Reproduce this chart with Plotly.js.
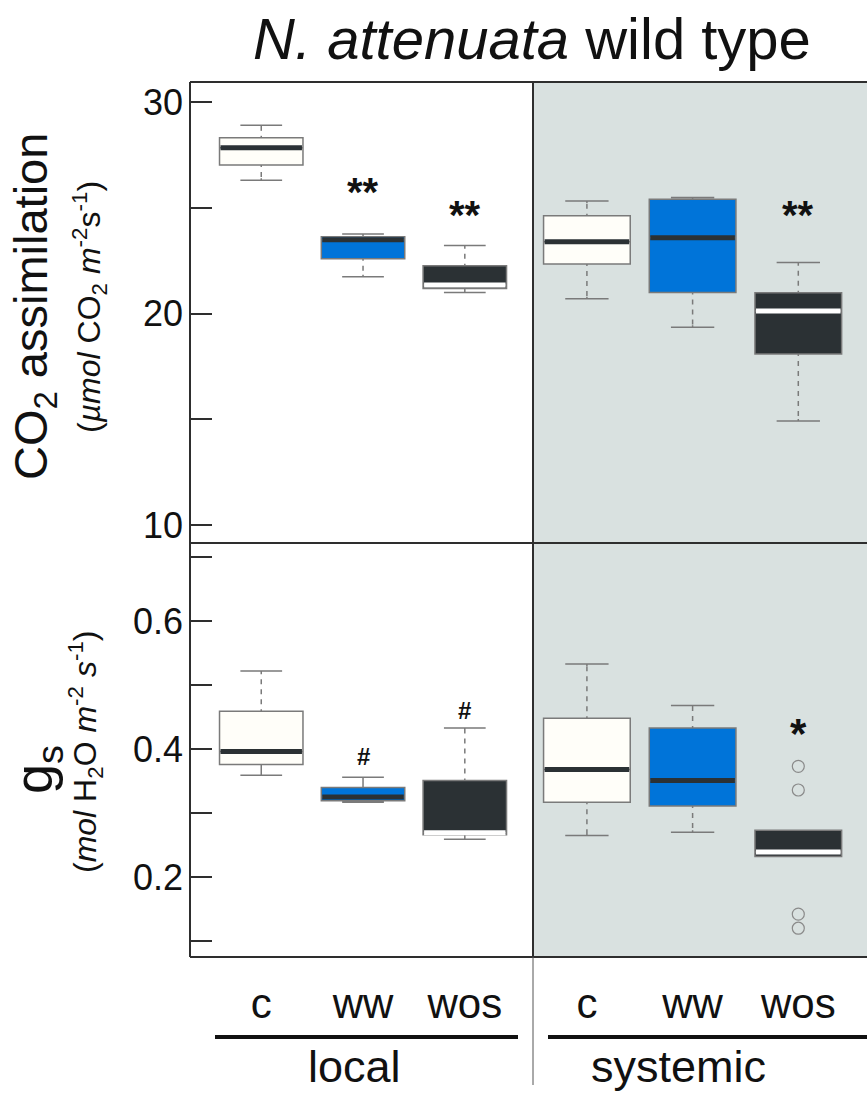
<!DOCTYPE html>
<html><head><meta charset="utf-8">
<script src="https://cdn.plot.ly/plotly-3.0.1.min.js"></script>
<style>html,body{margin:0;padding:0;background:#fff}#chart{width:867px;height:1096px}</style>
</head><body><div id="chart"></div>
<script>
// ---------- data ----------
const groups = ['c', 'ww', 'wos'];
const sites = ['local', 'systemic'];

// CO2 assimilation (µmol CO2 m-2 s-1)
const co2LocalQ1     = [27.02, 22.59, 21.19];
const co2LocalMedian = [27.84, 23.49, 21.35];
const co2LocalQ3     = [28.31, 23.63, 22.26];
const co2LocalLow    = [26.30, 21.74, 21.00];
const co2LocalHigh   = [28.91, 23.76, 23.22];

const co2SysQ1       = [22.34, 21.00, 18.09];
const co2SysMedian   = [23.39, 23.58, 20.12];
const co2SysQ3       = [24.62, 25.41, 20.98];
const co2SysLow      = [20.70, 19.35, 14.92];
const co2SysHigh     = [25.32, 25.49, 22.42];

// gs (mol H2O m-2 s-1)
const gsLocalQ1      = [0.376, 0.319, 0.266];
const gsLocalMedian  = [0.396, 0.325, 0.269];
const gsLocalQ3      = [0.459, 0.340, 0.351];
const gsLocalLow     = [0.359, 0.317, 0.259];
const gsLocalHigh    = [0.522, 0.356, 0.433];

const gsSysQ1        = [0.317, 0.311, 0.232];
const gsSysMedian    = [0.368, 0.351, 0.239];
const gsSysQ3        = [0.448, 0.433, 0.273];
const gsSysLow       = [0.265, 0.270, 0.232];
const gsSysHigh      = [0.533, 0.468, 0.273];

const gsSysWosOutliers = [0.373, 0.336, 0.142, 0.120];

// significance marks (text per group, and label height in data units)
const co2LocalSig  = ['', '**', '**'];
const co2LocalSigY = [null, 25.93, 24.85];
const co2SysSig    = ['', '', '**'];
const co2SysSigY   = [null, null, 24.85];
const gsLocalSig   = ['', '#', '#'];
const gsLocalSigY  = [null, 0.389, 0.461];
const gsSysSig     = ['', '', '*'];
const gsSysSigY    = [null, null, 0.431];

// ---------- styles ----------
const FONT = 'Liberation Sans, Arial, Helvetica, sans-serif';
const fillColors = ['#fffef9', '#0074d9', '#2b3134'];
const medianColors = ['#2b3134', '#2b3134', '#ffffff'];
const BORDER = '#7a7a7a';
const SYS_BG = '#d9e1e0';
const FRAME = '#2e2e2e';

const W = 867, H = 1096;
const M = {l: 190, r: 0, t: 82, b: 139};
const plotW = W - M.l - M.r, plotH = H - M.t - M.b;
const dv = (533 - M.l) / plotW;         // local | systemic split
const yd = (957 - 543) / plotH;         // bottom | top split

const co2Range = [9.15, 30.95];
const gsRange = [0.075, 0.722];
const xLocalRange = [-0.70, 2.67];
const xSysRange = [-0.51, 2.65];
const BOXW = 0.82;

const pxTop = (1 - yd) * plotH / (co2Range[1] - co2Range[0]);
const pxBot = yd * plotH / (gsRange[1] - gsRange[0]);

const traces = [];
const annotations = [];

function addPanel(xa, ya, q1, med, q3, lo, hi, bg, ppu, sig, sigY) {
  for (let i = 0; i < groups.length; i++) {
    traces.push({
      type: 'box', xaxis: xa, yaxis: ya, name: groups[i],
      x: [i], q1: [q1[i]], median: [med[i]], q3: [q3[i]],
      lowerfence: [lo[i]], upperfence: [hi[i]],
      width: BOXW, whiskerwidth: 0.5, fillcolor: fillColors[i],
      line: {color: BORDER, width: 1.5}, boxpoints: false,
      hoverinfo: 'skip', showlegend: false
    });
    // median bar
    traces.push({
      type: 'scatter', mode: 'lines', xaxis: xa, yaxis: ya,
      x: [i - BOXW / 2 + 0.01, i + BOXW / 2 - 0.01], y: [med[i], med[i]],
      line: {color: medianColors[i], width: 5}, hoverinfo: 'skip', showlegend: false
    });
    // dashed whiskers (background-coloured dash over the solid whisker)
    const pad = 2 / ppu;
    if ((hi[i] - q3[i]) * ppu > 12) {
      traces.push({
        type: 'scatter', mode: 'lines', xaxis: xa, yaxis: ya,
        x: [i, i], y: [q3[i] + pad, hi[i] - pad],
        line: {color: bg, width: 3, dash: '5px,5px'}, hoverinfo: 'skip', showlegend: false
      });
    }
    if ((q1[i] - lo[i]) * ppu > 12) {
      traces.push({
        type: 'scatter', mode: 'lines', xaxis: xa, yaxis: ya,
        x: [i, i], y: [q1[i] - pad, lo[i] + pad],
        line: {color: bg, width: 3, dash: '5px,5px'}, hoverinfo: 'skip', showlegend: false
      });
    }
    if (sig[i]) {
      const big = sig[i].indexOf('*') >= 0;
      const fs = sig[i] === '#' ? 24 : (sig[i] === '*' ? 42 : 40);
      annotations.push({
        xref: xa, yref: ya, x: i, y: sigY[i], text: '<b>' + sig[i] + '</b>',
        showarrow: false, xanchor: 'center', yanchor: 'middle',
        yshift: big ? -0.1 * fs : 0,
        font: {family: FONT, size: fs, color: '#111'}
      });
    }
  }
}

// top: CO2 (x3 local, x4 systemic, y)
addPanel('x3', 'y', co2LocalQ1, co2LocalMedian, co2LocalQ3, co2LocalLow, co2LocalHigh, '#ffffff', pxTop, co2LocalSig, co2LocalSigY);
addPanel('x4', 'y', co2SysQ1, co2SysMedian, co2SysQ3, co2SysLow, co2SysHigh, SYS_BG, pxTop, co2SysSig, co2SysSigY);
// bottom: gs (x local, x2 systemic, y2)
addPanel('x', 'y2', gsLocalQ1, gsLocalMedian, gsLocalQ3, gsLocalLow, gsLocalHigh, '#ffffff', pxBot, gsLocalSig, gsLocalSigY);
addPanel('x2', 'y2', gsSysQ1, gsSysMedian, gsSysQ3, gsSysLow, gsSysHigh, SYS_BG, pxBot, gsSysSig, gsSysSigY);

traces.push({
  type: 'scatter', mode: 'markers', xaxis: 'x2', yaxis: 'y2',
  x: gsSysWosOutliers.map(() => 2), y: gsSysWosOutliers,
  marker: {symbol: 'circle-open', size: 12, color: '#8a8a8a', line: {width: 1.2}},
  hoverinfo: 'skip', showlegend: false
});

// axis titles and group labels
annotations.push(
  {xref: 'paper', yref: 'paper', x: (34 - M.l) / plotW, y: (957 - 307) / plotH,
   text: 'CO<sub>2</sub> assimilation', textangle: -90, showarrow: false,
   xanchor: 'center', yanchor: 'middle', font: {family: FONT, size: 47, color: '#111'}},
  {xref: 'paper', yref: 'paper', x: (89 - M.l) / plotW, y: (957 - 307) / plotH,
   text: '(<i>µmol</i> CO<sub>2</sub> <i>m</i><sup>-2</sup>s<sup>-1</sup>)', textangle: -90, showarrow: false,
   xanchor: 'center', yanchor: 'middle', font: {family: FONT, size: 32, color: '#111'}},
  {xref: 'paper', yref: 'paper', x: (37 - M.l) / plotW, y: (957 - 770) / plotH,
   text: 'g<sub>s</sub>', textangle: -90, showarrow: false,
   xanchor: 'center', yanchor: 'middle', font: {family: FONT, size: 54, color: '#111'}},
  {xref: 'paper', yref: 'paper', x: (85 - M.l) / plotW, y: (957 - 752) / plotH,
   text: '(<i>mol</i> H<sub>2</sub>O <i>m</i><sup>-2</sup> <i>s</i><sup>-1</sup>)', textangle: -90, showarrow: false,
   xanchor: 'center', yanchor: 'middle', font: {family: FONT, size: 32, color: '#111'}},
  {xref: 'paper', yref: 'paper', x: (354 - M.l) / plotW, y: -(1066 - 957) / plotH,
   text: sites[0], showarrow: false, xanchor: 'center', yanchor: 'middle',
   font: {family: FONT, size: 45, color: '#111'}},
  {xref: 'paper', yref: 'paper', x: (678 - M.l) / plotW, y: -(1066 - 957) / plotH,
   text: sites[1], showarrow: false, xanchor: 'center', yanchor: 'middle',
   font: {family: FONT, size: 45, color: '#111'}}
);

const shapes = [
  {type: 'rect', xref: 'paper', yref: 'paper', x0: dv, x1: 1.01, y0: 0, y1: 1,
   fillcolor: SYS_BG, line: {width: 0}, layer: 'below'},
  // frame
  {type: 'line', xref: 'paper', yref: 'paper', x0: 0, x1: 1.01, y0: 1, y1: 1, line: {color: FRAME, width: 2}},
  {type: 'line', xref: 'paper', yref: 'paper', x0: 0, x1: 1.01, y0: yd, y1: yd, line: {color: FRAME, width: 2}},
  {type: 'line', xref: 'paper', yref: 'paper', x0: 0, x1: 1.01, y0: 0, y1: 0, line: {color: FRAME, width: 2}},
  {type: 'line', xref: 'paper', yref: 'paper', x0: 0, x1: 0, y0: 0, y1: 1, line: {color: FRAME, width: 2}},
  {type: 'line', xref: 'paper', yref: 'paper', x0: dv, x1: dv, y0: 0, y1: 1, line: {color: FRAME, width: 2}},
  // divider below the plot
  {type: 'line', xref: 'paper', yref: 'paper', x0: dv, x1: dv, y0: -(1085 - 957) / plotH, y1: 0, line: {color: '#555', width: 1}},
  // group underlines
  {type: 'line', xref: 'paper', yref: 'paper', x0: (215 - M.l) / plotW, x1: (518 - M.l) / plotW,
   y0: -(1037 - 957) / plotH, y1: -(1037 - 957) / plotH, line: {color: '#111', width: 4}},
  {type: 'line', xref: 'paper', yref: 'paper', x0: (548 - M.l) / plotW, x1: 1.01,
   y0: -(1037 - 957) / plotH, y1: -(1037 - 957) / plotH, line: {color: '#111', width: 4}}
];

const xBase = {
  showgrid: false, zeroline: false, showline: false, ticks: '',
  tickvals: [0, 1, 2], ticktext: groups, fixedrange: true
};
const yBase = {
  showgrid: false, zeroline: false, showline: false,
  ticks: 'inside', ticklen: 22, tickwidth: 2, tickcolor: FRAME,
  tickfont: {family: FONT, size: 36, color: '#111'}, ticklabelstandoff: 6, fixedrange: true
};

const layout = {
  width: W, height: H, margin: M,
  paper_bgcolor: '#ffffff', plot_bgcolor: 'rgba(0,0,0,0)',
  showlegend: false,
  title: {
    text: '<i>N. attenuata</i> wild type', x: 532 / W, xanchor: 'center',
    y: 1 - 39 / H, yanchor: 'middle', yref: 'container',
    font: {family: FONT, size: 58, color: '#111'}
  },
  xaxis: Object.assign({}, xBase, {domain: [0, dv], anchor: 'y2', range: xLocalRange,
    tickfont: {family: FONT, size: 42, color: '#111'}, ticklabelstandoff: 18}),
  xaxis2: Object.assign({}, xBase, {domain: [dv, 1], anchor: 'y2', range: xSysRange,
    tickfont: {family: FONT, size: 42, color: '#111'}, ticklabelstandoff: 18}),
  xaxis3: Object.assign({}, xBase, {domain: [0, dv], anchor: 'y', range: xLocalRange, showticklabels: false}),
  xaxis4: Object.assign({}, xBase, {domain: [dv, 1], anchor: 'y', range: xSysRange, showticklabels: false}),
  yaxis: Object.assign({}, yBase, {domain: [yd, 1], anchor: 'x3', range: co2Range,
    tickmode: 'linear', tick0: 0, dtick: 10,
    minor: {ticks: 'inside', ticklen: 22, tickwidth: 2, tickcolor: FRAME, dtick: 5, tick0: 0, showgrid: false}}),
  yaxis2: Object.assign({}, yBase, {domain: [0, yd], anchor: 'x', range: gsRange,
    tickmode: 'linear', tick0: 0, dtick: 0.2,
    minor: {ticks: 'inside', ticklen: 22, tickwidth: 2, tickcolor: FRAME, dtick: 0.1, tick0: 0, showgrid: false}}),
  shapes: shapes,
  annotations: annotations
};

Plotly.newPlot('chart', traces, layout, {staticPlot: true, displayModeBar: false});
</script>
</body></html>
